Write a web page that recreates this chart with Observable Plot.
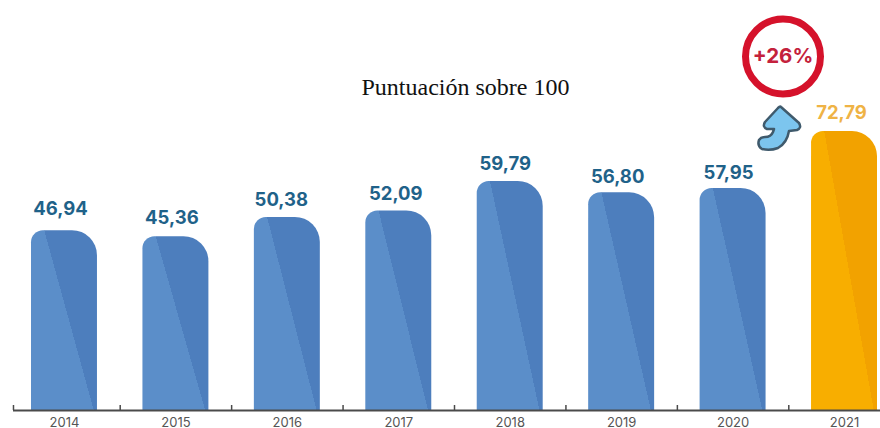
<!DOCTYPE html>
<html>
<head>
<meta charset="utf-8">
<script src="https://cdn.jsdelivr.net/npm/d3@7"></script>
<script src="https://cdn.jsdelivr.net/npm/@observablehq/plot@0.6"></script>
<style>
html,body{margin:0;padding:0;background:#fff;}
svg{display:block;}
</style>
</head>
<body>
<div id="chart"></div>
<script>
const years = ["2014","2015","2016","2017","2018","2019","2020","2021"];
const scores = [46.94,45.36,50.38,52.09,59.79,56.80,57.95,72.79];
const labels = ["46,94","45,36","50,38","52,09","59,79","56,80","57,95","72,79"];
const highlightYear = "2021";
const title = "Puntuación sobre 100";
const badge = "+26%";

const rows = years.map((year,i)=>({year,score:scores[i],label:labels[i]}));
const step = 846/(8-0.408);
const labelDy = [-15.5,-13,-11,-11,-11,-10,-9.5,-13];
const labelDx = [-4,-4,-6,-3,-5,-4,-4.5,-3];

const chart = Plot.plot({
  width:880, height:428,
  marginTop:0, marginRight:0, marginBottom:18, marginLeft:13,
  style:{background:"#fff",overflow:"visible"},
  x:{type:"band",domain:years,range:[31,877],paddingInner:0.408,paddingOuter:0,round:false,label:null},
  y:{domain:[0,107],label:null,axis:null},
  marks:[
    // hard-stop gradients for the two-tone bars
    ()=>{
      const defs=d3.create("svg:defs");
      [["blueTone","#5b8ec9","#4d7ebd"],["goldTone","#f8ae00","#f2a200"]].forEach(([id,a,b])=>{
        const g=defs.append("linearGradient").attr("id",id)
          .attr("x1",0.175).attr("y1",0.8).attr("x2",0.975).attr("y2",0.2);
        g.append("stop").attr("offset","50%").attr("stop-color",a);
        g.append("stop").attr("offset","50%").attr("stop-color",b);
      });
      return defs.node();
    },
    Plot.barY(rows,{x:"year",y:"score",
      fill:d=>d.year===highlightYear?"url(#goldTone)":"url(#blueTone)",
      rx1y1:12,rx2y1:25}),
    Plot.ruleY([0],{stroke:"#4a4a4a",strokeWidth:2}),
    Plot.ruleX(years.slice(1),{x:d=>d,y1:0,y2:1.3,dx:-step/2,stroke:"#4a4a4a",strokeWidth:1.5}),
    Plot.ruleX(years.slice(0,1),{x:d=>d,y1:0,y2:1.3,dx:-51,stroke:"#4a4a4a",strokeWidth:1.5}),
    Plot.axisX({tickSize:0,tickPadding:7,fontSize:13,fontFamily:"Inter",color:"#555",label:null,anchor:"bottom"}),
    ...rows.map((d,i)=>Plot.text([d],{x:"year",y:"score",text:"label",dy:labelDy[i],dx:labelDx[i],lineAnchor:"bottom",
      fontFamily:"Inter",fontWeight:700,fontSize:18.5,
      fill:d.year===highlightYear?"#efb345":"#1f6289"})),
    Plot.text([title],{frameAnchor:"top-left",dx:452,dy:87,lineAnchor:"middle",textAnchor:"middle",
      fontFamily:"Liberation Serif",fontSize:24,fill:"#111",stroke:"none"}),
    Plot.dot([badge],{frameAnchor:"top-left",dx:769.5,dy:56,r:37.5,stroke:"#d5122b",strokeWidth:7,fill:"#fff"}),
    Plot.text([badge],{frameAnchor:"top-left",dx:769.5,dy:56,lineAnchor:"middle",textAnchor:"middle",
      fontFamily:"Inter",fontWeight:700,fontSize:20.5,fill:"#c4213c"}),
    // curved arrow annotation
    ()=>d3.create("svg:path")
      .attr("d","M781 107 L799 123 Q802 128 797 130 L789 131 Q787 143 778 148 Q770 151 762 149 Q757 146 759 140 Q761 137 765 137 Q771 137 773 132 L774 129 L767 129 Q762 127 765 122 L778 108 Q780 106 781 107 Z")
      .attr("fill","#7cc5ee").attr("stroke","#3f5a6c").attr("stroke-width",2.5).attr("stroke-linejoin","round")
      .node()
  ]
});
document.getElementById("chart").append(chart);
</script>
</body>
</html>
